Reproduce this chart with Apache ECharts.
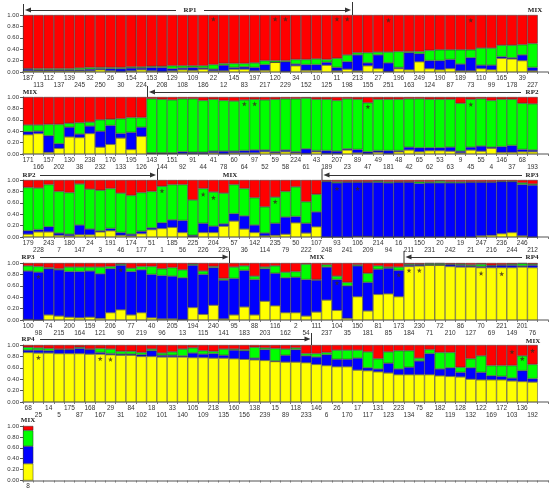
<!DOCTYPE html>
<html>
<head>
<meta charset="utf-8">
<script src="https://cdn.jsdelivr.net/npm/echarts@6/dist/echarts.min.js"></script>
<style>
  html, body { margin: 0; padding: 0; background: #fff; }
  #main { width: 550px; height: 497px; }
</style>
</head>
<body>
<div id="main"></div>
<script>
// row 1
var labels1 = ["187","113","112","137","139","245","32","250","26","30","154","224","153","208","129","108","109","186","22","12","145","83","197","217","120","229","34","152","10","125","11","198","213","155","27","251","196","163","249","124","190","87","189","73","110","99","165","178","39","227"];
var yellow1 = [.02,.02,.02,.02,.02,.02,.02,.04,.02,.01,.02,.04,.02,.01,.02,.04,.03,.05,.02,.02,.05,.05,.02,.03,.17,.01,.11,.03,.03,.12,.02,.05,.02,.11,.06,.01,.06,.04,.18,.06,.04,.06,.02,.02,.06,.04,.24,.23,.20,.02];
var blue1   = [.03,.02,.02,.02,.02,.02,.03,.02,.04,.05,.05,.03,.06,.07,.04,.03,.05,.02,.03,.10,.03,.04,.06,.10,.00,.17,.03,.10,.10,.05,.06,.13,.28,.05,.24,.15,.02,.30,.14,.14,.16,.16,.12,.23,.06,.08,.03,.02,.10,.06];
var green1  = [.01,.02,.02,.02,.02,.03,.03,.02,.02,.02,.02,.02,.02,.02,.05,.04,.03,.04,.08,.03,.07,.06,.08,.07,.03,.02,.08,.09,.10,.05,.16,.12,.04,.18,.05,.19,.28,.02,.04,.18,.19,.17,.25,.14,.30,.30,.20,.22,.18,.42];
var red1    = [.94,.94,.94,.94,.94,.93,.92,.92,.92,.92,.91,.91,.90,.90,.89,.89,.89,.89,.87,.85,.85,.85,.84,.80,.80,.80,.78,.78,.77,.78,.76,.70,.66,.66,.65,.65,.64,.64,.64,.62,.61,.61,.61,.61,.58,.58,.53,.53,.52,.50];
var stars1  = [[18,.93],[24,.93],[25,.93],[30,.93],[31,.93],[35,.91],[43,.91]];

// row 2
var labels2 = ["171","166","157","202","130","38","238","232","176","133","195","126","143","144","151","92","91","44","41","78","60","64","97","52","59","58","224","61","43","189","207","23","89","47","49","181","48","42","65","62","53","63","9","45","55","4","146","37","68","193"];
var yellow2 = [.34,.36,.03,.10,.30,.29,.36,.12,.17,.28,.08,.31,.01,.01,.01,.01,.01,.01,.02,.01,.02,.02,.02,.04,.02,.04,.02,.01,.04,.01,.01,.07,.02,.01,.03,.01,.04,.07,.04,.06,.06,.05,.02,.07,.05,.10,.03,.03,.04,.04];
var blue2   = [.05,.04,.29,.08,.17,.06,.13,.28,.33,.08,.30,.16,.01,.01,.01,.03,.02,.02,.03,.04,.03,.04,.05,.03,.02,.03,.02,.08,.02,.05,.04,.02,.06,.03,.03,.05,.02,.05,.07,.05,.05,.07,.03,.05,.09,.02,.10,.12,.04,.03];
var green2  = [.12,.11,.20,.34,.07,.20,.07,.20,.11,.26,.26,.17,.95,.94,.93,.93,.94,.91,.91,.89,.88,.89,.89,.88,.92,.90,.93,.89,.90,.90,.89,.88,.88,.86,.90,.90,.90,.85,.86,.85,.85,.84,.84,.84,.83,.82,.83,.81,.81,.81];
var red2    = [.49,.49,.48,.48,.46,.45,.44,.40,.39,.38,.36,.36,.03,.04,.05,.03,.03,.06,.04,.06,.07,.05,.04,.05,.04,.03,.03,.02,.04,.04,.06,.03,.04,.10,.04,.04,.04,.03,.03,.04,.04,.04,.11,.04,.03,.06,.04,.04,.11,.12];
var stars2  = [[21,.88],[22,.88],[33,.83],[43,.87]];

// row 3
var labels3 = ["179","228","243","7","180","147","24","3","191","46","174","177","51","1","185","56","225","226","204","229","57","36","142","114","235","79","50","222","107","248","93","241","106","209","214","94","16","211","150","231","20","242","19","21","247","216","236","244","246","212"];
var yellow3 = [.05,.09,.09,.03,.02,.04,.04,.09,.11,.03,.02,.06,.13,.15,.17,.08,.01,.08,.08,.19,.28,.14,.08,.02,.03,.05,.25,.07,.18,.00,.00,.00,.01,.01,.00,.00,.00,.00,.00,.00,.00,.00,.00,.00,.02,.03,.06,.08,.02,.00];
var blue3   = [.06,.04,.09,.04,.03,.17,.10,.02,.04,.05,.03,.04,.03,.10,.13,.21,.02,.16,.11,.04,.13,.23,.13,.05,.21,.30,.11,.17,.26,.97,.95,.96,.95,.95,.96,.95,.96,.96,.94,.95,.95,.95,.95,.96,.94,.93,.91,.89,.90,.91];
var green3  = [.76,.73,.74,.73,.73,.72,.70,.71,.70,.69,.68,.68,.64,.64,.62,.63,.62,.61,.60,.54,.51,.48,.48,.46,.46,.45,.52,.38,.31,.01,.02,.01,.01,.01,.02,.02,.01,.01,.03,.02,.03,.02,.02,.01,.01,.01,.01,.01,.03,.02];
var red3    = [.13,.14,.08,.20,.22,.07,.16,.18,.15,.23,.27,.22,.20,.11,.08,.08,.35,.15,.21,.23,.08,.15,.31,.47,.30,.20,.12,.38,.25,.02,.03,.03,.03,.03,.02,.03,.03,.03,.03,.03,.02,.03,.03,.03,.03,.03,.02,.02,.05,.07];
var stars3  = [[13,.81],[17,.75],[18,.69],[24,.62],[30,.85],[32,.85]];

// row 4
var labels4 = ["100","98","74","215","200","164","159","121","206","90","77","219","40","96","205","13","194","115","240","141","95","183","88","203","116","162","2","54","111","237","104","35","150","181","81","85","173","184","230","71","72","210","86","127","70","69","221","149","201","76"];
var yellow4 = [.01,.00,.09,.07,.05,.04,.05,.03,.13,.18,.09,.13,.04,.02,.02,.01,.22,.10,.26,.02,.09,.23,.09,.33,.25,.13,.13,.07,.14,.35,.17,.03,.41,.16,.45,.46,.41,.94,.95,.96,.96,.94,.93,.93,.92,.92,.92,.92,.93,.92];
var blue4   = [.85,.84,.81,.81,.80,.81,.81,.78,.77,.78,.76,.75,.76,.76,.75,.73,.74,.70,.66,.68,.64,.64,.62,.57,.57,.61,.62,.64,.56,.58,.54,.57,.54,.50,.44,.45,.46,.02,.02,.01,.01,.03,.03,.02,.02,.03,.04,.04,.02,.04];
var green4  = [.09,.10,.02,.02,.08,.08,.07,.12,.04,.02,.06,.06,.14,.12,.15,.14,.02,.06,.02,.03,.20,.08,.06,.03,.13,.10,.10,.27,.01,.04,.06,.06,.02,.16,.06,.02,.06,.02,.01,.02,.02,.01,.02,.02,.04,.01,.01,.02,.04,.02];
var red4    = [.05,.06,.08,.10,.07,.07,.07,.07,.06,.02,.09,.06,.06,.10,.08,.12,.02,.14,.06,.27,.07,.05,.23,.07,.05,.16,.15,.02,.29,.03,.23,.34,.03,.18,.05,.07,.07,.02,.02,.01,.01,.02,.02,.03,.02,.04,.03,.02,.01,.02];
var stars4  = [[1,.76],[9,.88],[30,.65],[36,.79],[37,.87],[38,.87],[44,.82],[46,.81]];

// row 5
var labels5 = ["68","25","14","5","175","87","168","167","29","31","84","102","18","101","33","140","105","109","218","135","160","156","138","239","15","89","118","233","146","6","26","170","17","117","131","123","223","134","75","82","182","119","128","132","122","169","172","103","136","192"];
var yellow5 = [.87,.86,.86,.85,.85,.85,.84,.84,.83,.82,.82,.80,.80,.79,.79,.79,.78,.78,.77,.77,.76,.75,.74,.73,.71,.70,.70,.69,.66,.64,.62,.62,.56,.55,.53,.51,.48,.48,.48,.48,.46,.45,.44,.40,.39,.39,.39,.37,.36,.35];
var blue5   = [.04,.05,.04,.07,.07,.09,.08,.03,.02,.02,.02,.03,.10,.03,.03,.02,.08,.06,.08,.05,.15,.15,.03,.19,.01,.12,.22,.12,.13,.19,.13,.13,.21,.05,.05,.17,.10,.13,.24,.37,.12,.15,.08,.20,.13,.07,.06,.05,.19,.06];
var green5  = [.05,.04,.04,.01,.01,.02,.01,.07,.08,.05,.05,.04,.03,.04,.06,.12,.09,.06,.04,.11,.02,.02,.19,.03,.22,.11,.03,.04,.06,.04,.16,.16,.14,.28,.18,.20,.32,.29,.05,.07,.29,.27,.09,.16,.29,.18,.19,.22,.26,.25];
var red5    = [.04,.05,.06,.07,.07,.04,.07,.06,.07,.11,.11,.13,.07,.14,.12,.07,.05,.10,.11,.07,.07,.08,.04,.05,.06,.07,.05,.15,.15,.13,.09,.09,.09,.12,.24,.12,.10,.10,.23,.08,.13,.13,.39,.24,.19,.36,.36,.36,.19,.34];
var stars5  = [[1,.78],[7,.76],[8,.75],[47,.88],[48,.76],[49,.90]];

// row 6
var labels6 = ["8"];
var yellow6 = [.31];
var blue6   = [.32];
var green6  = [.29];
var red6    = [.08];
var stars6  = [];

var rows = [
    { labels: labels1, yellow: yellow1, blue: blue1, green: green1, red: red1, stars: stars1 },
    { labels: labels2, yellow: yellow2, blue: blue2, green: green2, red: red2, stars: stars2 },
    { labels: labels3, yellow: yellow3, blue: blue3, green: green3, red: red3, stars: stars3 },
    { labels: labels4, yellow: yellow4, blue: blue4, green: green4, red: red4, stars: stars4 },
    { labels: labels5, yellow: yellow5, blue: blue5, green: green5, red: red5, stars: stars5 },
    { labels: labels6, yellow: yellow6, blue: blue6, green: green6, red: red6, stars: stars6 },
];

var gridTops = [15, 97, 180, 263, 345, 426];
var slots = 51;
var colors = { yellow: "#ffff00", blue: "#0000ff", green: "#00ff00", red: "#ff0000" };
var starPath = "path://M0,-5L1.2,-1.6L4.8,-1.6L1.9,0.6L2.9,4L0,2L-2.9,4L-1.9,0.6L-4.8,-1.6L-1.2,-1.6Z";

var grids = [], xAxes = [], yAxes = [], series = [];
rows.forEach(function (row, r) {
    grids.push({ left: 23, top: gridTops[r], width: 525, height: 57 });
    var cats = row.labels.slice();
    while (cats.length < slots) cats.push("");
    xAxes.push({
        type: "category",
        gridIndex: r,
        data: cats,
        axisLine: { lineStyle: { color: "#a8a8a8", width: 2 } },
        axisTick: { show: true, interval: 0, length: 2, lineStyle: { color: "#777" } },
        axisLabel: {
            interval: 0,
            fontSize: 6.5,
            fontFamily: "Liberation Sans",
            color: "#333",
            margin: 2.5,
            lineHeight: 7,
            formatter: function (v, i) { return i % 2 ? "\n" + v : v; },
        },
    });
    yAxes.push({
        type: "value",
        gridIndex: r,
        min: 0,
        max: 1,
        interval: 0.2,
        axisLine: { show: true, lineStyle: { color: "#555" } },
        axisTick: { show: true, length: 3, lineStyle: { color: "#555" } },
        splitLine: { show: false },
        axisLabel: {
            fontSize: 6,
            fontFamily: "Liberation Sans",
            color: "#333",
            margin: 4,
            formatter: function (v) { return v.toFixed(2); },
        },
    });
    ["yellow", "blue", "green", "red"].forEach(function (k) {
        series.push({
            type: "bar",
            xAxisIndex: r,
            yAxisIndex: r,
            stack: "s" + r,
            data: row[k],
            barCategoryGap: "0%",
            itemStyle: { color: colors[k], borderColor: "#333", borderWidth: 0.5 },
            silent: true,
        });
    });
    series.push({
        type: "scatter",
        xAxisIndex: r,
        yAxisIndex: r,
        data: row.stars,
        symbol: starPath,
        symbolSize: 5,
        itemStyle: { color: "#3a2a20" },
        silent: true,
        z: 5,
    });
});

// bracket annotations above each row
var ink = "#333";
var font = 'bold 7px "Liberation Serif"';
var graphic = [];
function seg(x1, y1, x2, y2) {
    graphic.push({ type: "line", shape: { x1: x1, y1: y1, x2: x2, y2: y2 }, style: { stroke: ink, lineWidth: 1 } });
}
function txt(x, y, s) {
    graphic.push({ type: "text", x: x, y: y, style: { text: s, font: font, fill: "#222", align: "center", verticalAlign: "middle" } });
}
function headL(x, y) {
    graphic.push({ type: "polygon", shape: { points: [[x, y], [x + 6, y - 2.5], [x + 6, y + 2.5]] }, style: { fill: ink } });
}
function headR(x, y) {
    graphic.push({ type: "polygon", shape: { points: [[x, y], [x - 6, y - 2.5], [x - 6, y + 2.5]] }, style: { fill: ink } });
}

// row 1
seg(23.5, 4, 23.5, 15); headL(25, 10); seg(28, 10.5, 176, 10.5); txt(190, 10, "RP1");
seg(204, 10.5, 348, 10.5); headR(351, 10); seg(352.5, 2, 352.5, 15); txt(535, 10, "MIX");
// row 2
txt(30, 92, "MIX"); seg(147.5, 86, 147.5, 97); headL(149, 92); seg(152, 92.5, 521, 92.5); txt(532, 92, "RP2");
// row 3
txt(29, 175, "RP2"); seg(40, 175.5, 153, 175.5); headR(156, 175); seg(157.5, 169, 157.5, 180);
txt(230, 175, "MIX");
seg(322, 169, 322, 180); headL(323.5, 175); seg(327, 175.5, 522, 175.5); txt(532, 175, "RP3");
// row 4
txt(28, 257, "RP3"); seg(40, 257.5, 226, 257.5); headR(228.5, 257); seg(229.5, 251, 229.5, 263);
txt(317, 257, "MIX");
seg(404, 251, 404, 263); headL(405.5, 257); seg(409, 257.5, 522, 257.5); txt(532, 257, "RP4");
// row 5
txt(28, 339, "RP4"); seg(40, 339.5, 308, 339.5); headR(310.5, 339); seg(311.5, 333, 311.5, 345);
txt(533, 341, "MIX");
// row 6
txt(28, 420, "MIX");

var myChart = echarts.init(document.getElementById("main"), null, { renderer: "canvas" });
myChart.setOption({
    animation: false,
    grid: grids,
    xAxis: xAxes,
    yAxis: yAxes,
    series: series,
    graphic: graphic,
});
</script>
</body>
</html>
